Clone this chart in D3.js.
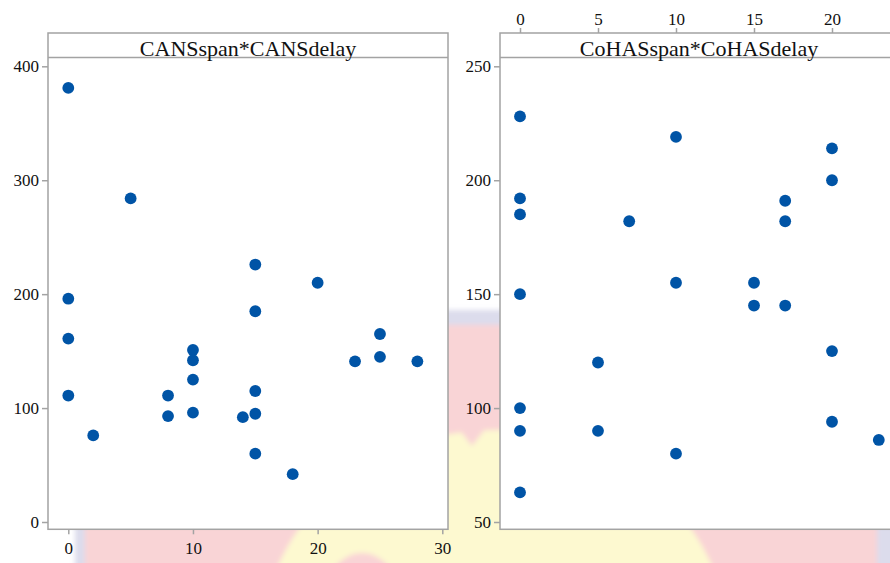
<!DOCTYPE html>
<html>
<head>
<meta charset="utf-8">
<script src="https://cdn.jsdelivr.net/npm/d3@7/dist/d3.min.js"></script>
<style>
  html, body { margin: 0; padding: 0; background: #ffffff; }
  svg { display: block; }
  svg text { font-family: "Liberation Serif", "Times New Roman", Times, Tinos, "DejaVu Serif", "Noto Serif", serif; }
</style>
</head>
<body>
<svg id="chart" width="890" height="563"></svg>
<script>
// Panel 1: CANS span vs CANS delay
const cansSpan  = [0, 5, 0, 0, 0, 2, 8, 8, 10, 10, 10, 10, 14, 15, 15, 15, 15, 15, 18, 20, 23, 25, 25, 28];
const cansDelay = [381, 284, 196, 161, 111, 76, 111, 93, 151, 142, 125, 96, 92, 226, 185, 115, 95, 60, 42, 210, 141, 165, 145, 141];
const cansXTicks = [0, 10, 20, 30];
const cansYTicks = [0, 100, 200, 300, 400];

// Panel 2: CoHAS span vs CoHAS delay
const cohasSpan  = [0, 0, 0, 0, 0, 0, 0, 5, 5, 7, 10, 10, 10, 15, 15, 17, 17, 17, 20, 20, 20, 20, 23];
const cohasDelay = [228, 192, 185, 150, 100, 90, 63, 120, 90, 182, 219, 155, 80, 155, 145, 191, 182, 145, 214, 200, 125, 94, 86];
const cohasXTicks = [0, 5, 10, 15, 20];
const cohasYTicks = [50, 100, 150, 200, 250];

const titles = ["CANSspan*CANSdelay", "CoHASspan*CoHASdelay"];

const svg = d3.select("#chart");
const frameColor = "#a3a3a3";
const dotColor = "#0054a6";

// faded backdrop behind the panels
const defs = svg.append("defs");
defs.append("filter").attr("id", "soft")
  .append("feGaussianBlur").attr("stdDeviation", 2.5);
const bg = svg.append("g").attr("filter", "url(#soft)");
bg.append("rect").attr("x", 75).attr("y", 310).attr("width", 830).attr("height", 270).attr("fill", "#dcdcec");
bg.append("rect").attr("x", 85).attr("y", 325).attr("width", 792).attr("height", 260).attr("fill", "#f9d4d6");
bg.append("ellipse").attr("cx", 495).attr("cy", 650).attr("rx", 235).attr("ry", 220).attr("fill", "#fdf9d0");
bg.append("circle").attr("cx", 362).attr("cy", 585).attr("r", 32).attr("fill", "#f9d4d6");
bg.append("path").attr("d", "M452,420 L492,420 L472,446 Z").attr("fill", "#f9d4d6");

// shared panel geometry
const frameTop = 33, stripBottom = 57.5, frameBottom = 529.3;

function panel(cfg) {
  const g = svg.append("g");
  const x = d3.scaleLinear().domain(cfg.xDomain).range(cfg.xRange);
  const y = d3.scaleLinear().domain(cfg.yDomain).range([522, 66.3]);

  // plot area and strip
  g.append("rect").attr("x", cfg.left).attr("y", frameTop)
    .attr("width", cfg.right - cfg.left).attr("height", frameBottom - frameTop)
    .attr("fill", "#ffffff").attr("stroke", frameColor).attr("stroke-width", 1.5);
  g.append("line").attr("x1", cfg.left).attr("x2", cfg.right)
    .attr("y1", stripBottom).attr("y2", stripBottom)
    .attr("stroke", frameColor).attr("stroke-width", 1.5);
  g.append("text").attr("x", (cfg.left + cfg.titleRight) / 2).attr("y", 55.5)
    .attr("text-anchor", "middle").attr("font-size", 22).attr("fill", "#111")
    .text(cfg.title);

  // y axis
  const ya = g.append("g").attr("transform", `translate(${cfg.left},0)`)
    .call(d3.axisLeft(y).tickValues(cfg.yTicks).tickSize(6).tickPadding(3).tickFormat(d3.format("d")));
  // x axis (bottom or top)
  const xa = cfg.xTop
    ? g.append("g").attr("transform", `translate(0,${frameTop})`)
        .call(d3.axisTop(x).tickValues(cfg.xTicks).tickSize(5).tickPadding(3).tickFormat(d3.format("d")))
    : g.append("g").attr("transform", `translate(0,${frameBottom})`)
        .call(d3.axisBottom(x).tickValues(cfg.xTicks).tickSize(5).tickPadding(8).tickFormat(d3.format("d")));
  [ya, xa].forEach(a => {
    a.attr("font-family", null);
    a.select(".domain").remove();
    a.selectAll(".tick line").attr("stroke", frameColor).attr("stroke-width", 1.5);
    a.selectAll(".tick text").attr("font-size", 17).attr("fill", "#111");
  });

  // markers
  g.append("g").selectAll("circle")
    .data(cfg.xs.map((v, i) => [v, cfg.ys[i]]))
    .join("circle")
    .attr("cx", d => x(d[0])).attr("cy", d => y(d[1]))
    .attr("r", 5.9).attr("fill", dotColor);
}

panel({
  title: titles[0], left: 48, right: 448, titleRight: 448,
  xDomain: [0, 30], xRange: [68.3, 442.3], yDomain: [0, 400],
  xTicks: cansXTicks, yTicks: cansYTicks, xTop: false,
  xs: cansSpan, ys: cansDelay
});

panel({
  title: titles[1], left: 500, right: 910, titleRight: 898,
  xDomain: [0, 20], xRange: [520, 832], yDomain: [50, 250],
  xTicks: cohasXTicks, yTicks: cohasYTicks, xTop: true,
  xs: cohasSpan, ys: cohasDelay
});
</script>
</body>
</html>
